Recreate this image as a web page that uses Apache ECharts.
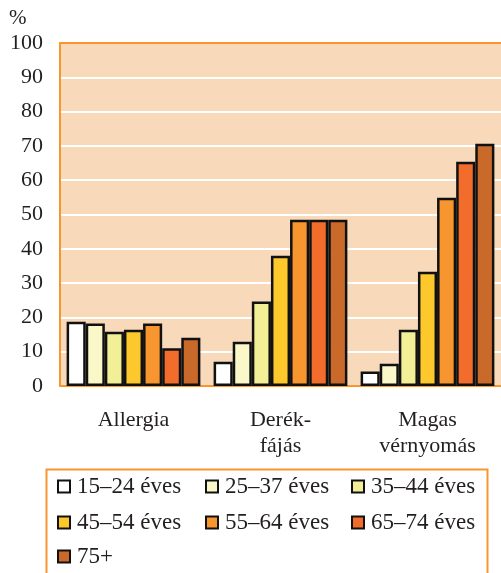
<!DOCTYPE html>
<html>
<head>
<meta charset="utf-8">
<script src="https://cdn.jsdelivr.net/npm/echarts@6/dist/echarts.min.js"></script>
<style>html,body{margin:0;padding:0;background:#fff;}#c{width:501px;height:573px;}</style>
</head>
<body>
<div id="c"></div>
<script>
var categories = ['Allergia', 'Derék-\nfájás', 'Magas\nvérnyomás'];
var seriesNames = ['15–24 éves', '25–37 éves', '35–44 éves', '45–54 éves', '55–64 éves', '65–74 éves', '75+'];
var v1524 = [18.7, 7.1, 4.2];
var v2537 = [18.2, 12.9, 6.5];
var v3544 = [15.8, 24.6, 16.4];
var v4554 = [16.4, 38.0, 33.3];
var v5564 = [18.2, 48.5, 54.9];
var v6574 = [11.0, 48.5, 65.4];
var v75 = [14.1, 48.5, 70.6];
var yTicks = [0, 10, 20, 30, 40, 50, 60, 70, 80, 90, 100];

var seriesValues = [v1524, v2537, v3544, v4554, v5564, v6574, v75];
var colors = ['#FFFFFF', '#FAF7C8', '#F3EF96', '#FDC82B', '#F7962F', '#F26D2C', '#C96A2A'];
var font = '"Liberation Serif", "DejaVu Serif", serif';
var textColor = '#231F20';
var orange = '#F7962F';

var chart = echarts.init(document.getElementById('c'), null, {renderer: 'canvas'});

var legendPos = [
  [57, 475], [205, 475], [351, 475],
  [57, 511], [205, 511], [351, 511],
  [57, 545]
];

var option = {
  animation: false,
  backgroundColor: '#ffffff',
  grid: {
    left: 60, top: 43, width: 447, bottom: 187,
    show: true, backgroundColor: '#F8DABB', borderWidth: 0
  },
  xAxis: [{
    type: 'category',
    data: categories,
    axisTick: {show: false},
    axisLine: {show: true, lineStyle: {color: orange, width: 2}},
    axisLabel: {color: textColor, fontFamily: font, fontSize: 22, margin: 21, lineHeight: 26}
  }, {
    type: 'category',
    position: 'top',
    data: categories,
    axisTick: {show: false},
    axisLabel: {show: false},
    axisLine: {show: true, lineStyle: {color: orange, width: 2}}
  }],
  yAxis: {
    type: 'value',
    min: 0, max: 100, interval: 10,
    axisLine: {show: true, lineStyle: {color: orange, width: 2}},
    axisTick: {show: false},
    splitLine: {show: true, lineStyle: {color: '#ffffff', width: 2}},
    axisLabel: {
      color: textColor, fontFamily: font, fontSize: 22, margin: 17,
      formatter: function (v) { return yTicks.indexOf(v) >= 0 ? String(v) : ''; }
    }
  },
  legend: legendPos.map(function (p, i) {
    return {
      data: [seriesNames[i]],
      left: p[0], top: p[1],
      itemWidth: 12, itemHeight: 12, itemGap: 0,
      padding: 0,
      icon: 'rect',
      textStyle: {color: textColor, fontFamily: font, fontSize: 23, padding: [0, 0, 0, 2]}
    };
  }),
  graphic: [
    {type: 'text', left: 9, top: 8, style: {text: '%', fill: textColor, font: '21px ' + font}},
    {type: 'rect', left: 44, top: 467, shape: {x: 0, y: 0, width: 441, height: 130},
     style: {fill: 'none', stroke: orange, lineWidth: 2}, z: 10}
  ],
  series: seriesNames.map(function (name, i) {
    return {
      name: name,
      type: 'bar',
      data: seriesValues[i],
      barGap: '0%',
      barCategoryGap: '9%',
      itemStyle: {color: colors[i], borderColor: '#111111', borderWidth: 2.5}
    };
  })
};
chart.setOption(option);
</script>
</body>
</html>
